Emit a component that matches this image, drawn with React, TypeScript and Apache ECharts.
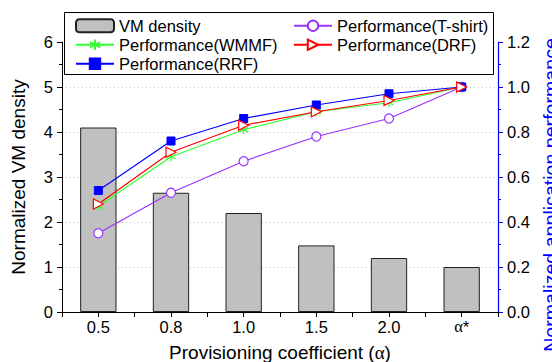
import React, { useEffect, useRef } from "react";
import * as echarts from "echarts";

const categories = ["0.5", "0.8", "1.0", "1.5", "2.0", "α*"];
const vmDensity = [4.1, 2.65, 2.2, 1.48, 1.2, 1.0];
const perfTshirt = [0.35, 0.53, 0.67, 0.78, 0.86, 1.0];
const perfWMMF = [0.47, 0.69, 0.81, 0.89, 0.93, 1.0];
const perfDRF = [0.48, 0.71, 0.83, 0.89, 0.94, 1.0];
const perfRRF = [0.54, 0.76, 0.86, 0.92, 0.97, 1.0];
const leftTicks = [0, 1, 2, 3, 4, 5, 6];
const rightTicks = [0, 0.2, 0.4, 0.6, 0.8, 1.0, 1.2];

const FONT = "'Liberation Sans', Arial, sans-serif";
const SERIF = "'Liberation Serif', 'Times New Roman', serif";

export default function App() {
  const ref = useRef<HTMLDivElement>(null);
  useEffect(() => {
    if (!ref.current) return;
    const chart = echarts.init(ref.current, null, { renderer: "svg" });
    const starPath = "path://M5,0 L5,10 M0.67,2.5 L9.33,7.5 M0.67,7.5 L9.33,2.5";
    const legendText = { fontFamily: FONT, fontSize: 16.5, lineHeight: 19.5, color: "#000" };
    chart.setOption({
      animation: false,
      backgroundColor: "#fff",
      textStyle: { fontFamily: FONT },
      grid: { left: 62, right: 54, top: 42, bottom: 50, containLabel: false, outerBoundsMode: "none" },
      graphic: [
        {
          type: "rect",
          z: 3,
          shape: { x: 64.5, y: 12.5, width: 429, height: 62 },
          style: { fill: "#fff", stroke: "#000", lineWidth: 1 },
        },
      ],
      legend: [
        {
          orient: "vertical",
          left: 70,
          top: 11,
          itemGap: -0.5,
          itemWidth: 38,
          itemHeight: 13,
          textStyle: legendText,
          data: ["VM density", "Performance(WMMF)", "Performance(RRF)"],
          z: 5,
        },
        {
          orient: "vertical",
          left: 288,
          top: 11,
          itemGap: -0.5,
          itemWidth: 38,
          itemHeight: 13,
          textStyle: legendText,
          data: ["Performance(T-shirt)", "Performance(DRF)"],
          z: 5,
        },
      ],
      xAxis: [
        {
          type: "category",
          data: categories,
          position: "bottom",
          name: "Provisioning coefficient ({a|α})",
          nameLocation: "middle",
          nameGap: 31,
          nameTextStyle: {
            fontFamily: FONT,
            fontSize: 19,
            color: "#000",
            rich: { a: { fontFamily: SERIF, fontSize: 19, color: "#000" } },
          },
          axisLine: { lineStyle: { color: "#000", width: 1 } },
          axisTick: { show: true, interval: 0, length: 5, lineStyle: { color: "#000" } },
          axisLabel: {
            fontFamily: FONT,
            fontSize: 16.5,
            color: "#000",
            margin: 6,
            interval: 0,
            formatter: (v: string) => (v === "α*" ? "{a|α}*" : v),
            rich: { a: { fontFamily: SERIF, fontSize: 16.5, color: "#000" } },
          },
        },
        {
          type: "category",
          data: categories,
          position: "bottom",
          axisLine: { show: false },
          axisTick: { show: true, alignWithLabel: true, interval: 0, length: 5, lineStyle: { color: "#000" } },
          axisLabel: { show: false },
        },
      ],
      yAxis: [
        {
          type: "value",
          min: leftTicks[0],
          max: leftTicks[leftTicks.length - 1],
          interval: 1,
          name: "Normalized VM density",
          nameLocation: "middle",
          nameRotate: 90,
          nameGap: 34,
          nameTextStyle: { fontFamily: FONT, fontSize: 19, color: "#000" },
          axisLine: { show: true, lineStyle: { color: "#000", width: 1 } },
          axisTick: { show: true, length: 5, lineStyle: { color: "#000" } },
          minorTick: { show: true, splitNumber: 2, length: 3, lineStyle: { color: "#000" } },
          axisLabel: { fontFamily: FONT, fontSize: 16.5, color: "#000", margin: 9 },
          splitLine: { show: true, lineStyle: { color: "#c4c4c4", type: [1, 3], width: 1 } },
        },
        {
          type: "value",
          position: "right",
          min: rightTicks[0],
          max: rightTicks[rightTicks.length - 1],
          interval: 0.2,
          name: "Normalized application performance",
          nameLocation: "middle",
          nameRotate: 90,
          nameGap: 42,
          nameTextStyle: {
            fontFamily: FONT,
            fontSize: 19.6,
            color: "#0000ff",
            padding: [0, 36, 0, 0],
          },
          axisLine: { show: true, lineStyle: { color: "#0000ff", width: 1.2 } },
          axisTick: { show: true, length: 5, lineStyle: { color: "#0000ff" } },
          minorTick: { show: true, splitNumber: 2, length: 3, lineStyle: { color: "#0000ff" } },
          axisLabel: {
            fontFamily: FONT,
            fontSize: 16.5,
            color: "#000",
            margin: 9,
            formatter: (v: number) => v.toFixed(1),
          },
          splitLine: { show: false },
        },
      ],
      series: [
        {
          name: "VM density",
          type: "bar",
          data: vmDensity,
          barWidth: "50%",
          itemStyle: { color: "#c0c0c0", borderColor: "#222", borderWidth: 1 },
          yAxisIndex: 0,
          z: 1,
        },
        {
          name: "Performance(T-shirt)",
          type: "line",
          yAxisIndex: 1,
          data: perfTshirt,
          symbol: "circle",
          symbolSize: 9,
          lineStyle: { color: "#9933ff", width: 1.2 },
          itemStyle: { color: "#fff", borderColor: "#9933ff", borderWidth: 1.2 },
          z: 3,
        },
        {
          name: "Performance(WMMF)",
          type: "line",
          yAxisIndex: 1,
          data: perfWMMF,
          symbol: starPath,
          symbolSize: 9,
          lineStyle: { color: "#33ff33", width: 1.2 },
          itemStyle: { color: "#33ff33", borderColor: "#33ff33", borderWidth: 1.2 },
          z: 3,
        },
        {
          name: "Performance(DRF)",
          type: "line",
          yAxisIndex: 1,
          data: perfDRF,
          symbol: "triangle",
          symbolRotate: -90,
          symbolSize: 10,
          lineStyle: { color: "#ff0000", width: 1.2 },
          itemStyle: { color: "#fff", borderColor: "#ff0000", borderWidth: 1.2 },
          z: 4,
        },
        {
          name: "Performance(RRF)",
          type: "line",
          yAxisIndex: 1,
          data: perfRRF,
          symbol: "rect",
          symbolSize: 8,
          lineStyle: { color: "#0000ff", width: 1.2 },
          itemStyle: { color: "#0000ff", borderColor: "#0000ff", borderWidth: 1 },
          z: 3,
        },
      ],
    });
    return () => chart.dispose();
  }, []);
  return <div ref={ref} style={{ width: 552, height: 362, position: "absolute", left: 0, top: 0 }} />;
}
